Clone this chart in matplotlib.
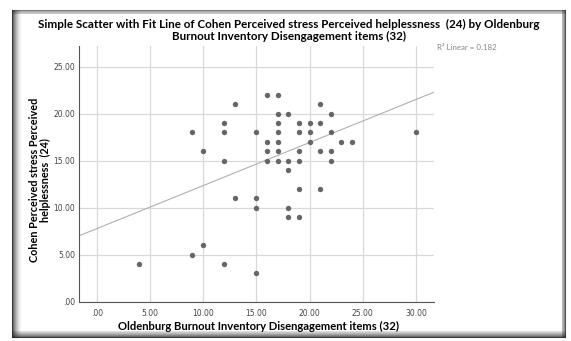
import numpy as np
import matplotlib
matplotlib.use('Agg')
import matplotlib.pyplot as plt
from matplotlib.lines import Line2D

# data (integer scores)
burnout = [4, 9, 9, 10, 10, 12, 12, 12, 12, 13, 13,
           15, 15, 15, 15, 16, 16, 16, 16,
           17, 17, 17, 17, 17, 17, 17,
           18, 18, 18, 18, 18,
           19, 19, 19, 19, 19, 19,
           20, 20, 20, 21, 21, 21, 21,
           22, 22, 22, 22, 23, 24, 30]
stress = [4, 5, 18, 6, 16, 4, 15, 18, 19, 11, 21,
          3, 10, 11, 18, 15, 16, 17, 22,
          15, 16, 17, 18, 19, 20, 22,
          9, 10, 14, 15, 20,
          9, 12, 15, 16, 18, 19,
          17, 18, 19, 12, 16, 19, 21,
          15, 16, 18, 20, 17, 17, 18]
fit_intercept = 7.77
fit_slope = 0.458
r2 = 0.182
xticks = [0, 5, 10, 15, 20, 25, 30]
yticks = [0, 5, 10, 15, 20, 25]

W, H = 571, 341
fig = plt.figure(figsize=(W / 100, H / 100), dpi=100)
fig.patch.set_facecolor('white')

# screenshot style panel with inner shadow (pixel coords, y down)
def fline(x0, y0, x1, y1, a):
    fig.lines.append(Line2D([x0 / W, x1 / W], [1 - y0 / H, 1 - y1 / H],
                            transform=fig.transFigure, color=(0.15, 0.15, 0.15, a), lw=0.75))

L, T, R, B = 12, 10, 565, 337
fline(L, T, R, T, 0.6)
fline(L, B, R, B, 0.9)
fline(L, T, L, B, 0.9)
fline(R, T, R, B, 0.8)
for i in range(1, 10):
    f = (1 - i / 10) ** 1.8
    fline(L + i, T, L + i, B, 0.8 * f)          # left, wide
    if i < 4:
        fline(L, T + i, R, T + i, 0.45 * f)     # top, thin
        fline(R - i, T, R - i, B, 0.6 * f)      # right
    if i < 7:
        fline(L, B - i, R, B - i, 0.8 * f)      # bottom

ax_l, ax_r, ax_t, ax_b = 79.3, 434, 46, 301.7
ax = fig.add_axes([ax_l / W, 1 - ax_b / H, (ax_r - ax_l) / W, (ax_b - ax_t) / H])
ax.set_xlim(-1.64, 31.7)
ax.set_ylim(0, 27.2)
ax.set_xticks(xticks)
ax.set_yticks(yticks)
ax.set_xticklabels(['.00' if v == 0 else f'{v:.2f}' for v in xticks])
ax.set_yticklabels(['.00' if v == 0 else f'{v:.2f}' for v in yticks])
ax.grid(True, color='#d8d8d8', lw=0.9)
ax.set_axisbelow(True)
for s in ['top', 'right']:
    ax.spines[s].set_visible(False)
for s in ['left', 'bottom']:
    ax.spines[s].set_color('#555555')
    ax.spines[s].set_linewidth(0.8)
ax.tick_params(axis='x', length=0, labelsize=5.5, labelcolor='#444444', pad=5)
ax.tick_params(axis='y', length=0, labelsize=5.5, labelcolor='#444444', pad=3)

ax.scatter(burnout, stress, s=15, color='#666666', zorder=3, linewidths=0)
xl = np.array(ax.get_xlim())
ax.plot(xl, fit_intercept + fit_slope * xl, color='#b0b0b0', lw=0.8, zorder=2)
ax.set_xlim(-1.64, 31.7)

ax.set_xlabel('Oldenburg Burnout Inventory Disengagement items (32)',
              fontsize=8.1, fontweight='bold', family='Lato', va='center')
ax.xaxis.set_label_coords((259 - ax_l) / (ax_r - ax_l), (ax_b - 326) / (ax_b - ax_t))
ax.set_ylabel('Cohen Perceived stress Perceived\nhelplessness  (24)',
              fontsize=7.8, fontweight='bold', family='Lato', va='center',
              linespacing=1.0)
ax.yaxis.set_label_coords((40 - ax_l) / (ax_r - ax_l), (ax_b - 180) / (ax_b - ax_t))

fig.text(289 / W, 1 - 30.5 / H,
         'Simple Scatter with Fit Line of Cohen Perceived stress Perceived helplessness  (24) by Oldenburg\n'
         'Burnout Inventory Disengagement items (32)',
         ha='center', va='center', fontsize=8.4, fontweight='bold', family='Lato',
         linespacing=1.1)
fig.text(437 / W, 1 - 47 / H, f'R² Linear = {r2:.3f}', fontsize=5.7,
         color='#888888', va='center', family='Lato')

fig.savefig('out.png', dpi=100)
